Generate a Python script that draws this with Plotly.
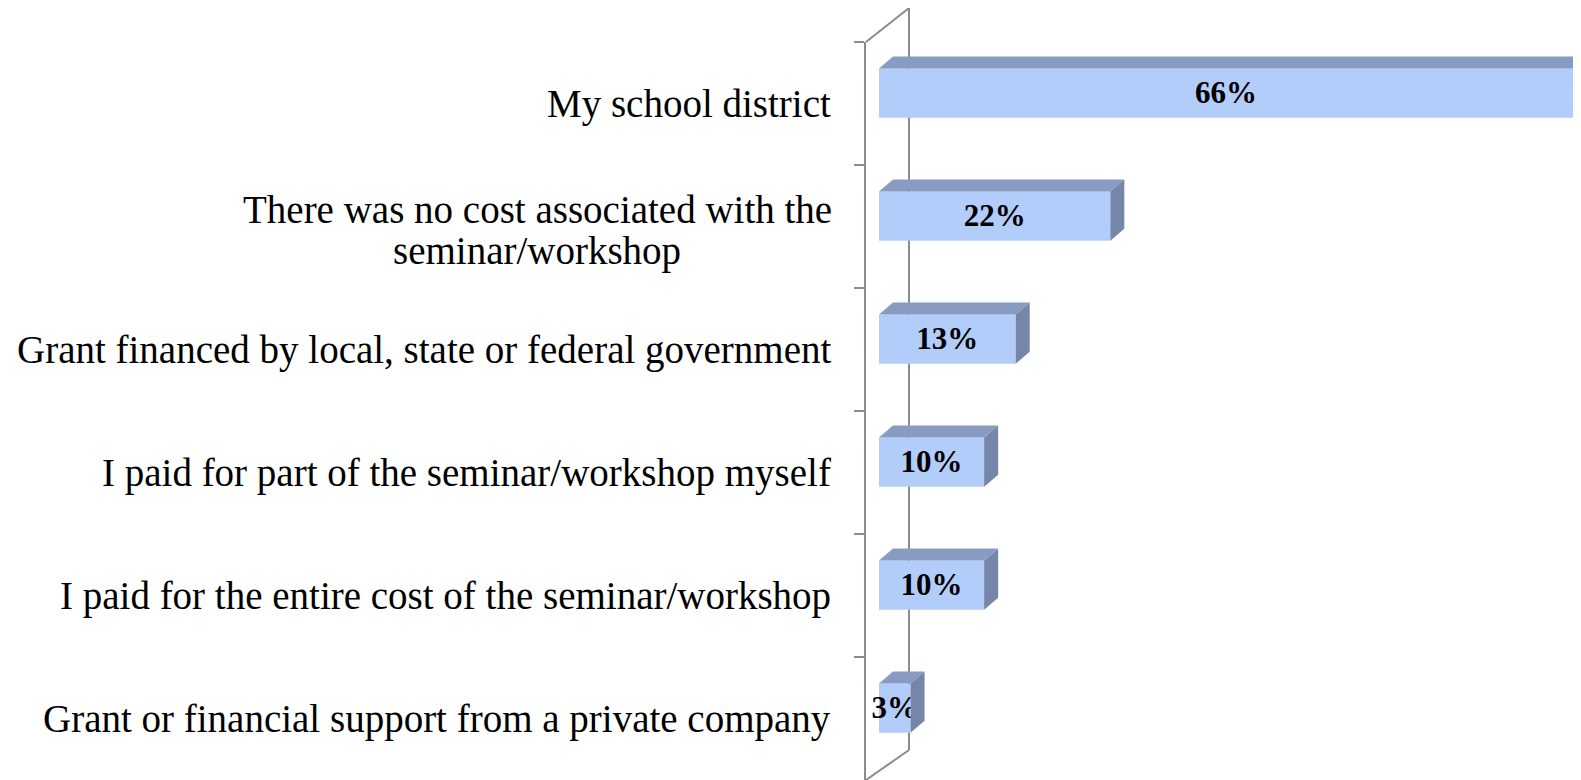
import plotly.graph_objects as go

categories = [
    "My school district",
    "There was no cost associated with the<br>seminar/workshop",
    "Grant financed by local, state or federal government",
    "I paid for part of the seminar/workshop myself",
    "I paid for the entire cost of the seminar/workshop",
    "Grant or financial support from a private company",
]
values = [66, 22, 13, 10, 10, 3]

FRONT = "#b3cdfb"
TOP = "#889cc3"
SIDE = "#7686a9"
AXIS = "#8c8c8c"

PAGE_OFF = 8                      # default body margin of the html page
W, H = 1581 - PAGE_OFF, 780 - PAGE_OFF
ML, MT = 866 - PAGE_OFF, 42 - PAGE_OFF
plot_w = W - ML
ph = H - MT
px_per_unit = 10.515
x_lo = -13 / px_per_unit
x_hi = x_lo + plot_w / px_per_unit

pos = list(range(len(categories)))
bar_w = 0.40
bar_off = -0.285
dx = 14 / px_per_unit        # depth offset in value units
dy = 12 / 123                # depth offset in category units

fig = go.Figure()
fig.add_trace(go.Bar(
    x=values, y=pos, orientation="h",
    width=bar_w, offset=bar_off,
    marker=dict(color=FRONT, line=dict(width=0)),
    hoverinfo="skip",
))

# data labels centred on front faces
fig.add_trace(go.Scatter(
    x=[v / 2 for v in values],
    y=[p + bar_off + bar_w / 2 + 0.02 for p in pos],
    mode="text",
    text=[f"{v}%" for v in values],
    textfont=dict(family="Liberation Serif", size=31, color="black", weight="bold"),
    textposition="middle center",
    hoverinfo="skip",
    cliponaxis=False,
))

shapes = []
for v, p in zip(values, pos):
    yt = p + bar_off
    yb = yt + bar_w
    # top face
    shapes.append(dict(
        type="path", xref="x", yref="y", layer="above",
        path=f"M 0 {yt} L {v} {yt} L {v+dx} {yt-dy} L {dx} {yt-dy} Z",
        fillcolor=TOP, line=dict(width=0),
    ))
    # side face
    shapes.append(dict(
        type="path", xref="x", yref="y", layer="above",
        path=f"M {v} {yt} L {v+dx} {yt-dy} L {v+dx} {yb-dy} L {v} {yb} Z",
        fillcolor=SIDE, line=dict(width=0),
    ))

# back wall frame
bx = 43 / plot_w
shapes.append(dict(type="line", xref="paper", yref="paper", layer="below",
                   x0=bx, x1=bx, y0=30 / ph, y1=1 + 34 / ph,
                   line=dict(color=AXIS, width=2)))
shapes.append(dict(type="line", xref="paper", yref="paper", layer="below",
                   x0=0, x1=bx, y0=1, y1=1 + 34 / ph,
                   line=dict(color=AXIS, width=2)))
shapes.append(dict(type="line", xref="paper", yref="paper", layer="below",
                   x0=0, x1=bx, y0=0, y1=30 / ph,
                   line=dict(color=AXIS, width=2)))

annotations = []
label_right = -33 / plot_w
label_center = -(866 - 537) / plot_w
for c, p in zip(categories, pos):
    lines = c.split("<br>")
    if len(lines) == 1:
        annotations.append(dict(
            text=c, xref="paper", yref="y", x=label_right, y=p,
            xanchor="right", yanchor="middle", showarrow=False,
            font=dict(family="Liberation Serif", size=39, color="black"),
        ))
    else:
        n = len(lines)
        step = 42 / 123
        for i, ln in enumerate(lines):
            annotations.append(dict(
                text=ln, xref="paper", yref="y", x=label_center,
                y=p + 0.03 + (i - (n - 1) / 2) * step,
                xanchor="center", yanchor="middle", showarrow=False,
                font=dict(family="Liberation Serif", size=39, color="black"),
            ))

fig.update_layout(
    width=W, height=H,
    margin=dict(l=ML, r=0, t=MT, b=0),
    paper_bgcolor="white", plot_bgcolor="white",
    showlegend=False,
    shapes=shapes, annotations=annotations,
    xaxis=dict(range=[x_lo, x_hi], visible=False, fixedrange=True),
    yaxis=dict(
        range=[len(categories) - 0.5, -0.5],
        tickmode="array", tickvals=[p - 0.5 for p in pos],
        ticks="outside", ticklen=10, tickwidth=2, tickcolor=AXIS,
        showticklabels=False, showgrid=False, zeroline=False,
        showline=True, linecolor=AXIS, linewidth=2,
        fixedrange=True,
    ),
)

fig.write_html("out.html")
